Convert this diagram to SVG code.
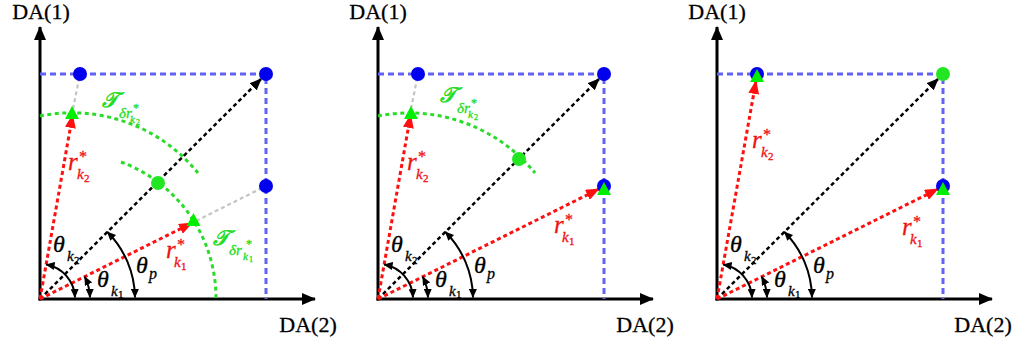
<svg xmlns="http://www.w3.org/2000/svg" width="1018" height="343" viewBox="0 0 1018 343">
<style>
.axis{stroke:#000;stroke-width:3;fill:none}
.blue{stroke:#6262f4;stroke-width:3;stroke-dasharray:6 4;fill:none}
.gray{stroke:#c4c4c4;stroke-width:2.2;stroke-dasharray:4 3;fill:none}
.garc{stroke:#2adc2a;stroke-width:3;stroke-dasharray:4 3.5;fill:none}
.red{stroke:#ff1010;stroke-width:3;stroke-dasharray:4 3;fill:none;marker-end:url(#ahRed)}
.blk{stroke:#000;stroke-width:2.5;stroke-dasharray:4 3;fill:none;marker-end:url(#ahBlk)}
.ang{stroke:#000;stroke-width:2;fill:none;marker-start:url(#ahArc);marker-end:url(#ahArc)}
.bdot{fill:#0000ee}
.gdot{fill:#22e622}
.tri{fill:#00ee00}
text{font-family:"Liberation Serif","DejaVu Serif",serif}
.da{font-size:22px;fill:#000;stroke:#000;stroke-width:0.3}
.rl{fill:#ee1111;stroke:#ee1111;stroke-width:0.3;font-style:italic}
.gl{fill:#22dd22;stroke:#22dd22;stroke-width:0.3;font-style:italic}
.th{fill:#000;stroke:#000;stroke-width:0.3;font-style:italic}
.up{font-style:normal}
.cal{stroke-width:0.8}
</style>
<defs>
<marker id="ahRed" markerUnits="userSpaceOnUse" viewBox="0 0 14 11" markerWidth="14" markerHeight="11" refX="13" refY="5.5" orient="auto"><path d="M0,0 L14,5.5 L0,11 z" fill="#ff1010"/></marker>
<marker id="ahBlk" markerUnits="userSpaceOnUse" viewBox="0 0 12 10" markerWidth="12" markerHeight="10" refX="11" refY="5" orient="auto"><path d="M0,0 L12,5 L0,10 z" fill="#000"/></marker>
<marker id="ahAxis" markerUnits="userSpaceOnUse" viewBox="0 0 14 12" markerWidth="14" markerHeight="12" refX="13" refY="6" orient="auto"><path d="M0,0 L14,6 L0,12 z" fill="#000"/></marker>
<marker id="ahArc" markerUnits="userSpaceOnUse" viewBox="0 0 9 8" markerWidth="9" markerHeight="8" refX="8.5" refY="4" orient="auto-start-reverse"><path d="M0,0 L9,4 L0,8 z" fill="#000"/></marker>
<path id="triShape" d="M0,-8 L7,5 L-7,5 z"/>
</defs>

<!-- ================= PANEL 1 ================= -->
<g id="panel1" transform="translate(40,299)">
  <g id="p1-connectors">
    <line class="axis" x1="0" y1="1.5" x2="0" y2="-272" marker-end="url(#ahAxis)"/>
    <line class="axis" x1="-1.5" y1="0" x2="275" y2="0" marker-end="url(#ahAxis)"/>
    <path class="blue" d="M0,-225 H226 V0"/>
    <line class="gray" x1="33" y1="-190" x2="40" y2="-225"/>
    <line class="gray" x1="156" y1="-78" x2="226" y2="-113"/>
    <path class="garc" d="M0,-183 A162,162 0 0 1 158,-126"/>
    <path class="garc" d="M81,-137 A145,145 0 0 1 176,0"/>
    <line class="blk" x1="0" y1="0" x2="221" y2="-220"/>
    <line class="red" x1="0" y1="0" x2="32.6" y2="-184"/>
    <line class="red" x1="0" y1="0" x2="152" y2="-76"/>
    <path class="ang" d="M6.1,-34.5 A35,35 0 0 1 35,-1.5"/>
    <path class="ang" d="M44.7,-22.4 A50,50 0 0 1 50,-1.5"/>
    <path class="ang" d="M67.2,-67.2 A95,95 0 0 1 95,-1.5"/>
  </g>
  <g id="p1-nodes">
    <circle id="p1-b1" class="bdot" cx="40" cy="-225" r="7"/>
    <circle id="p1-b2" class="bdot" cx="226" cy="-225" r="7"/>
    <circle id="p1-b3" class="bdot" cx="226" cy="-113" r="7"/>
    <circle id="p1-g" class="gdot" cx="118" cy="-116" r="7"/>
    <use id="p1-t2" href="#triShape" class="tri" transform="translate(32,-185)"/>
    <use id="p1-t1" href="#triShape" class="tri" transform="translate(153.5,-78)"/>
  </g>
  <g id="p1-labels">
    <text class="da" x="1" y="-280" text-anchor="middle">DA(1)</text>
    <text class="da" x="268" y="33" text-anchor="middle">DA(2)</text>
    <text class="rl"><tspan x="28" y="-129" font-size="25">r</tspan><tspan class="up" x="39" y="-137" font-size="16">*</tspan><tspan x="37" y="-120" font-size="15">k</tspan><tspan class="up" x="44" y="-117" font-size="11">2</tspan></text>
    <text class="rl"><tspan x="126" y="-41" font-size="25">r</tspan><tspan class="up" x="137" y="-49" font-size="16">*</tspan><tspan x="134" y="-32" font-size="15">k</tspan><tspan class="up" x="141" y="-29" font-size="11">1</tspan></text>
    <text class="gl"><tspan class="cal" x="62" y="-192" font-size="21">𝒯</tspan><tspan x="79" y="-181" font-size="15">δr</tspan><tspan class="up" x="93" y="-187" font-size="12">*</tspan><tspan x="90" y="-176" font-size="11">k</tspan><tspan class="up" x="96" y="-174" font-size="8">2</tspan></text>
    <text class="gl"><tspan class="cal" x="173" y="-54" font-size="21">𝒯</tspan><tspan x="189" y="-44" font-size="15">δr</tspan><tspan class="up" x="206" y="-51" font-size="12">*</tspan><tspan x="203" y="-39" font-size="11">k</tspan><tspan class="up" x="209" y="-37" font-size="8">1</tspan></text>
    <text class="th"><tspan x="13" y="-47" font-size="24">θ</tspan><tspan x="27" y="-38" font-size="15">k</tspan><tspan class="up" x="34" y="-35" font-size="11">2</tspan></text>
    <text class="th"><tspan x="57" y="-12" font-size="24">θ</tspan><tspan x="71" y="-3" font-size="15">k</tspan><tspan class="up" x="78" y="-1" font-size="11">1</tspan></text>
    <text class="th"><tspan x="96" y="-26" font-size="24">θ</tspan><tspan x="109" y="-20" font-size="16">p</tspan></text>
  </g>
</g>

<!-- ================= PANEL 2 ================= -->
<g id="panel2" transform="translate(378,299)">
  <g id="p2-connectors">
    <line class="axis" x1="0" y1="1.5" x2="0" y2="-272" marker-end="url(#ahAxis)"/>
    <line class="axis" x1="-1.5" y1="0" x2="275" y2="0" marker-end="url(#ahAxis)"/>
    <path class="blue" d="M0,-225 H226 V0"/>
    <line class="gray" x1="33" y1="-190" x2="40" y2="-225"/>
    <path class="garc" d="M0,-183 A162,162 0 0 1 157,-126"/>
    <line class="blk" x1="0" y1="0" x2="221" y2="-220"/>
    <line class="red" x1="0" y1="0" x2="32.6" y2="-184"/>
    <line class="red" x1="0" y1="0" x2="221" y2="-110"/>
    <path class="ang" d="M6.1,-34.5 A35,35 0 0 1 35,-1.5"/>
    <path class="ang" d="M44.7,-22.4 A50,50 0 0 1 50,-1.5"/>
    <path class="ang" d="M67.2,-67.2 A95,95 0 0 1 95,-1.5"/>
  </g>
  <g id="p2-nodes">
    <circle id="p2-b1" class="bdot" cx="40" cy="-225" r="7"/>
    <circle id="p2-b2" class="bdot" cx="226" cy="-225" r="7"/>
    <circle id="p2-b3" class="bdot" cx="226" cy="-113" r="7"/>
    <circle id="p2-g" class="gdot" cx="141" cy="-140" r="7"/>
    <use id="p2-t2" href="#triShape" class="tri" transform="translate(33,-185)"/>
    <use id="p2-t1" href="#triShape" class="tri" transform="translate(226,-109)"/>
  </g>
  <g id="p2-labels">
    <text class="da" x="0" y="-280" text-anchor="middle">DA(1)</text>
    <text class="da" x="267" y="33" text-anchor="middle">DA(2)</text>
    <text class="rl"><tspan x="29" y="-129" font-size="25">r</tspan><tspan class="up" x="40" y="-137" font-size="16">*</tspan><tspan x="38" y="-120" font-size="15">k</tspan><tspan class="up" x="45" y="-117" font-size="11">2</tspan></text>
    <text class="rl"><tspan x="176" y="-66" font-size="25">r</tspan><tspan class="up" x="187" y="-74" font-size="16">*</tspan><tspan x="184" y="-57" font-size="15">k</tspan><tspan class="up" x="191" y="-54" font-size="11">1</tspan></text>
    <text class="gl"><tspan class="cal" x="62" y="-197" font-size="21">𝒯</tspan><tspan x="79" y="-186" font-size="15">δr</tspan><tspan class="up" x="93" y="-192" font-size="12">*</tspan><tspan x="90" y="-181" font-size="11">k</tspan><tspan class="up" x="96" y="-179" font-size="8">2</tspan></text>
    <text class="th"><tspan x="13" y="-47" font-size="24">θ</tspan><tspan x="27" y="-38" font-size="15">k</tspan><tspan class="up" x="34" y="-35" font-size="11">2</tspan></text>
    <text class="th"><tspan x="57" y="-12" font-size="24">θ</tspan><tspan x="71" y="-3" font-size="15">k</tspan><tspan class="up" x="78" y="-1" font-size="11">1</tspan></text>
    <text class="th"><tspan x="96" y="-26" font-size="24">θ</tspan><tspan x="109" y="-20" font-size="16">p</tspan></text>
  </g>
</g>

<!-- ================= PANEL 3 ================= -->
<g id="panel3" transform="translate(717,299)">
  <g id="p3-connectors">
    <line class="axis" x1="0" y1="1.5" x2="0" y2="-272" marker-end="url(#ahAxis)"/>
    <line class="axis" x1="-1.5" y1="0" x2="275" y2="0" marker-end="url(#ahAxis)"/>
    <path class="blue" d="M0,-225 H226 V0"/>
    <line class="blk" x1="0" y1="0" x2="221" y2="-220"/>
    <line class="red" x1="0" y1="0" x2="39" y2="-218"/>
    <line class="red" x1="0" y1="0" x2="221" y2="-110"/>
    <path class="ang" d="M6.1,-34.5 A35,35 0 0 1 35,-1.5"/>
    <path class="ang" d="M44.7,-22.4 A50,50 0 0 1 50,-1.5"/>
    <path class="ang" d="M67.2,-67.2 A95,95 0 0 1 95,-1.5"/>
  </g>
  <g id="p3-nodes">
    <circle id="p3-b1" class="bdot" cx="40" cy="-225" r="7"/>
    <circle id="p3-b3" class="bdot" cx="226" cy="-113" r="7"/>
    <circle id="p3-g" class="gdot" cx="226" cy="-225" r="7"/>
    <use id="p3-t2" href="#triShape" class="tri" transform="translate(40,-222)"/>
    <use id="p3-t1" href="#triShape" class="tri" transform="translate(226,-109)"/>
  </g>
  <g id="p3-labels">
    <text class="da" x="0" y="-280" text-anchor="middle">DA(1)</text>
    <text class="da" x="266" y="33" text-anchor="middle">DA(2)</text>
    <text class="rl"><tspan x="35" y="-151" font-size="25">r</tspan><tspan class="up" x="46" y="-159" font-size="16">*</tspan><tspan x="44" y="-142" font-size="15">k</tspan><tspan class="up" x="51" y="-139" font-size="11">2</tspan></text>
    <text class="rl"><tspan x="185" y="-64" font-size="25">r</tspan><tspan class="up" x="196" y="-72" font-size="16">*</tspan><tspan x="193" y="-55" font-size="15">k</tspan><tspan class="up" x="200" y="-52" font-size="11">1</tspan></text>
    <text class="th"><tspan x="13" y="-47" font-size="24">θ</tspan><tspan x="27" y="-38" font-size="15">k</tspan><tspan class="up" x="34" y="-35" font-size="11">2</tspan></text>
    <text class="th"><tspan x="57" y="-12" font-size="24">θ</tspan><tspan x="71" y="-3" font-size="15">k</tspan><tspan class="up" x="78" y="-1" font-size="11">1</tspan></text>
    <text class="th"><tspan x="96" y="-26" font-size="24">θ</tspan><tspan x="109" y="-20" font-size="16">p</tspan></text>
  </g>
</g>
</svg>
